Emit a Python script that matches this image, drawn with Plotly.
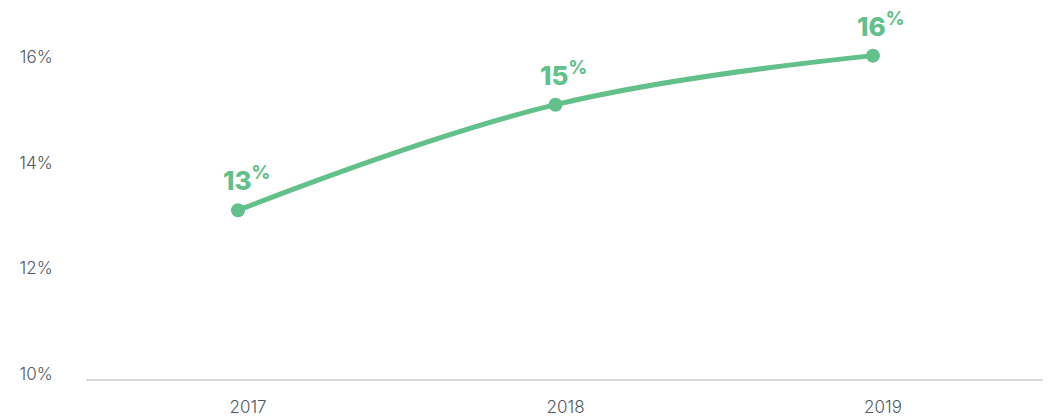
import plotly.graph_objects as go

years = ["2017", "2018", "2019"]
values = [13.1, 15.1, 16.03]
labels = ["13", "15", "16"]
y_ticks = [10, 12, 14, 16]
y_ticktext = ["10%", "12%", "14%", "16%"]

green = "#62c08a"
gray_text = "#4f5962"

fig = go.Figure()
fig.add_trace(go.Scatter(
    x=[0, 1, 2], y=values, mode="lines+markers",
    line=dict(color=green, width=5, shape="spline", smoothing=1.1),
    marker=dict(color=green, size=14),
    hoverinfo="skip", showlegend=False,
))

for i, (v, lab) in enumerate(zip(values, labels)):
    fig.add_annotation(
        x=i, y=v, text=f"{lab}<sup>%</sup>", showarrow=False,
        xanchor="center", yanchor="bottom", xshift=8, yshift=12,
        font=dict(family="Inter", size=26, color=green, weight=800),
    )

fig.update_layout(
    width=1051, height=416,
    margin=dict(l=78, r=13, t=2, b=45, autoexpand=False),
    paper_bgcolor="white", plot_bgcolor="white",
    font=dict(family="Inter", color=gray_text),
    xaxis=dict(
        range=[-0.479, 2.545], tickmode="array", tickvals=[0, 1, 2], ticktext=years,
        showgrid=False, zeroline=False, showline=True, linecolor="#d5d8dc", linewidth=1.5,
        ticks="outside", ticklen=12, tickcolor="rgba(0,0,0,0)", ticklabelshift=10,
        tickfont=dict(family="Inter", size=17, color=gray_text, weight=300),
        automargin=False,
    ),
    yaxis=dict(
        range=[9.9, 16.895], tickmode="array", tickvals=y_ticks, ticktext=y_ticktext,
        showgrid=False, zeroline=False, showline=False,
        ticks="outside", ticklen=29, tickcolor="rgba(0,0,0,0)",
        tickfont=dict(family="Inter", size=17, color=gray_text, weight=300),
        automargin=False,
    ),
)

fig.write_html("out.html")
